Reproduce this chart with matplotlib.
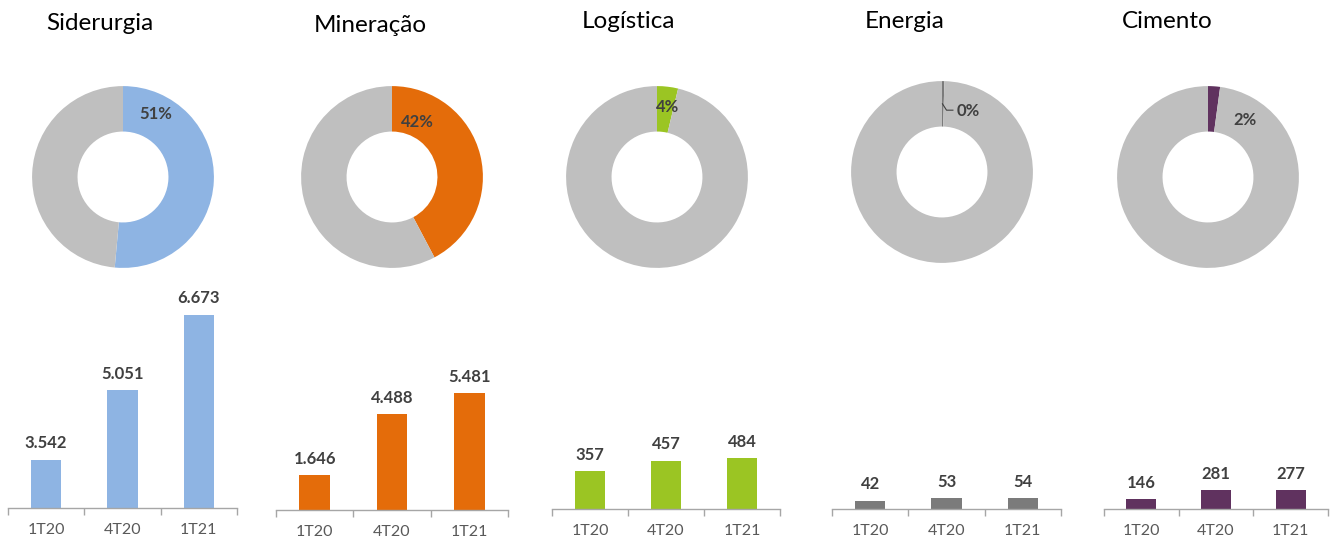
import matplotlib
matplotlib.use("Agg")
import matplotlib.pyplot as plt

plt.rcParams["font.family"] = ["Lato", "DejaVu Sans"]

sectors = ["Siderurgia", "Mineração", "Logística", "Energia", "Cimento"]
periods = ["1T20", "4T20", "1T21"]
siderurgia = [3542, 5051, 6673]
mineracao = [1646, 4488, 5481]
logistica = [357, 457, 484]
energia = [42, 53, 54]
cimento = [146, 281, 277]
series = [siderurgia, mineracao, logistica, energia, cimento]

colors = ["#8EB4E3", "#E46C0A", "#9BC523", "#7B7B7B", "#60325F"]
ring_gray = "#BFBFBF"
text_dark = "#404040"

W, H = 1338, 544
fig = plt.figure(figsize=(W / 100, H / 100), dpi=100)


def px_rect(x0, y0, x1, y1):
  # pixel box (top-left origin) -> figure fraction rect
  return [x0 / W, 1 - y1 / H, (x1 - x0) / W, (y1 - y0) / H]


# layout in pixels, per panel
title_pos = [(100, 23), (370, 25), (628, 21), (905, 21), (1167, 21)]
donut_centers = [(123, 177), (392, 177), (657, 177), (942, 172), (1208, 177)]
label_offsets = [(0.36, 0.69), (0.28, 0.60), (0.12, 0.77), (0.16, 0.67), (0.41, 0.63)]
bar_x = [(8, 237), (276, 508), (552, 780), (832, 1061), (1104, 1328)]
bar_base = [508, 510, 509, 509, 509]
bar_top_px = 290
bar_ylim = [(2500, 7208), (0, 10330), (0, 2076), (0, 1090), (0, 3250)]

# share of the latest quarter across sectors
latest = [s[-1] for s in series]
total = sum(latest)

for i, name in enumerate(sectors):
  tx, ty = title_pos[i]
  fig.text(tx / W, 1 - ty / H, name, fontsize=17.5, ha="center", va="center", color="black")

  # donut
  cx, cy = donut_centers[i]
  size = 200
  dax = fig.add_axes(px_rect(cx - size / 2, cy - size / 2, cx + size / 2, cy + size / 2))
  share = latest[i] / total
  dax.pie(
    [share, 1 - share],
    colors=[colors[i], ring_gray],
    startangle=90,
    counterclock=False,
    radius=1,
    wedgeprops=dict(width=0.5, linewidth=0),
  )
  dax.set_xlim(-1.1, 1.1)
  dax.set_ylim(-1.1, 1.1)
  dax.set_aspect("equal")
  lx, ly = label_offsets[i]
  tiny = share < 0.005
  dax.text(lx, ly, f"{share * 100:.0f}%", fontsize=12, fontweight="bold",
           color=text_dark, ha="left" if tiny else "center", va="center")
  if tiny:
    dax.plot([0.005, 0.05, 0.12], [0.75, 0.68, 0.68], color=text_dark, linewidth=0.8)

  # bars
  x0, x1 = bar_x[i]
  bax = fig.add_axes(px_rect(x0, bar_top_px, x1, bar_base[i]))
  bars = bax.bar(range(len(periods)), series[i], width=0.4, color=colors[i])
  bax.set_xlim(-0.5, len(periods) - 0.5)
  bax.set_ylim(*bar_ylim[i])
  bax.bar_label(bars, labels=[f"{v:,}".replace(",", ".") for v in series[i]],
                padding=6, fontsize=12, fontweight="bold", color=text_dark)
  for side in ["left", "right", "top"]:
    bax.spines[side].set_visible(False)
  bax.spines["bottom"].set_color("#A6A6A6")
  bax.spines["bottom"].set_linewidth(1.0)
  bax.set_yticks([])
  bax.set_xticks(range(len(periods)))
  bax.set_xticklabels(periods, fontsize=11.5, color="#595959")
  bax.tick_params(axis="x", which="major", length=0, pad=11)
  bax.set_xticks([-0.5, 0.5, 1.5, 2.5], minor=True)
  bax.tick_params(axis="x", which="minor", length=5, color="#A6A6A6", width=1.0)

fig.savefig("out.png", dpi=100)
